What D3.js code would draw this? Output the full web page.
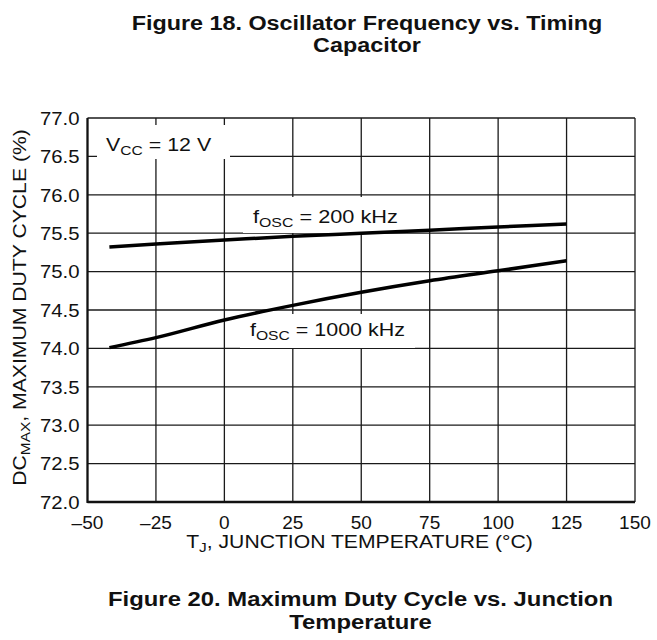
<!DOCTYPE html>
<html>
<head>
<meta charset="utf-8">
<script src="https://cdn.jsdelivr.net/npm/d3@7"></script>
<style>
  html, body { margin: 0; padding: 0; background: #fff; }
  svg { display: block; font-family: "Liberation Sans", Arial, Helvetica, sans-serif; }
</style>
</head>
<body>
<svg id="chart" width="657" height="640"></svg>
<script>
// Junction temperature (°C) sample points
const tempC = [-42, -25, 0, 25, 50, 75, 100, 125];
// Maximum duty cycle (%) for each oscillator frequency
const duty200k = [75.32, 75.36, 75.41, 75.46, 75.50, 75.54, 75.58, 75.62];
const duty1000k = [74.01, 74.14, 74.37, 74.56, 74.73, 74.88, 75.01, 75.14];
// Axis ticks
const xTicks = [-50, -25, 0, 25, 50, 75, 100, 125, 150];
const yTicks = [72.0, 72.5, 73.0, 73.5, 74.0, 74.5, 75.0, 75.5, 76.0, 76.5, 77.0];

const svg = d3.select("#chart");
const plotL = 87.5, plotR = 635, plotT = 118, plotB = 502;

const x = d3.scaleLinear().domain([-50, 150]).range([plotL, plotR]);
const y = d3.scaleLinear().domain([72, 77]).range([plotB, plotT]);

const fs = 18.5, subFs = 13.5, capFs = 21;

// Stretch a text horizontally about its anchor point
function stretch(sel, k, ax) {
  sel.attr("transform", `translate(${ax},0) scale(${k},1) translate(${-ax},0)`);
}
function widthOf(sel) { return sel.node().getBBox().width; }

// Two-line bold caption, stretched to a given first-line width
function caption(cx, baseY, lines, width) {
  const texts = lines.map((s, i) => svg.append("text")
    .attr("x", cx).attr("y", baseY + i * 22.5)
    .attr("text-anchor", "middle").attr("font-weight", "bold")
    .attr("font-size", capFs).attr("fill", "#111").text(s));
  const k = width / widthOf(texts[0]);
  texts.forEach(t => stretch(t, k, cx));
}
caption(367, 30, ["Figure 18. Oscillator Frequency vs. Timing", "Capacitor"], 471);
caption(360.5, 606.5, ["Figure 20. Maximum Duty Cycle vs. Junction", "Temperature"], 505);

// Grid
const grid = svg.append("g").attr("stroke", "#1a1a1a").attr("stroke-width", 1.3);
grid.selectAll("line.v").data(xTicks).join("line").attr("class", "v")
  .attr("x1", d => x(d)).attr("x2", d => x(d))
  .attr("y1", plotT).attr("y2", plotB);
grid.selectAll("line.h").data(yTicks).join("line").attr("class", "h")
  .attr("x1", plotL).attr("x2", plotR)
  .attr("y1", d => y(d)).attr("y2", d => y(d));

// Label backgrounds that interrupt the grid
const boxes = [
  [97, 125, 133, 34],
  [243, 197, 165, 36],
  [240, 314, 175, 34]
];
svg.selectAll("rect.bg").data(boxes).join("rect").attr("class", "bg")
  .attr("x", d => d[0]).attr("y", d => d[1])
  .attr("width", d => d[2]).attr("height", d => d[3])
  .attr("fill", "#fff");

// Axes frame (left and bottom heavier)
svg.append("line").attr("x1", plotL).attr("x2", plotL).attr("y1", plotT).attr("y2", plotB + 1)
  .attr("stroke", "#111").attr("stroke-width", 2.2);
svg.append("line").attr("x1", plotL).attr("x2", plotR).attr("y1", plotB).attr("y2", plotB)
  .attr("stroke", "#111").attr("stroke-width", 2.4);

// Tick labels
svg.append("g").selectAll("text").data(xTicks).join("text")
  .attr("x", d => x(d)).attr("y", 529.5)
  .attr("text-anchor", "middle").attr("font-size", fs).attr("fill", "#111")
  .attr("transform", d => `translate(${x(d)},0) scale(1.03,1) translate(${-x(d)},0)`)
  .text(d => d < 0 ? "\u2013" + Math.abs(d) : String(d));
svg.append("g").selectAll("text").data(yTicks).join("text")
  .attr("x", 79.5).attr("y", d => y(d) + 6.8)
  .attr("text-anchor", "end").attr("font-size", fs).attr("fill", "#111")
  .attr("transform", "translate(79.5,0) scale(1.1,1) translate(-79.5,0)")
  .text(d => d.toFixed(1));

// Text with a subscript part
function subText(parent, main, sub, rest) {
  parent.append("tspan").text(main);
  parent.append("tspan").attr("font-size", subFs).attr("dy", 4).text(sub);
  parent.append("tspan").attr("dy", -4).text(rest);
  return parent;
}

// Axis titles
const xt = subText(svg.append("text").attr("x", 359.5).attr("y", 548.5)
  .attr("text-anchor", "middle").attr("font-size", fs).attr("fill", "#111"),
  "T", "J", ", JUNCTION TEMPERATURE (\u00b0C)");
stretch(xt, 347 / widthOf(xt), 359.5);

const yt = subText(svg.append("text")
  .attr("text-anchor", "middle").attr("font-size", fs).attr("fill", "#111"),
  "DC", "MAX", ", MAXIMUM DUTY CYCLE (%)");
const ky = 357 / widthOf(yt);
yt.attr("transform", `translate(25.5,307.5) rotate(-90) scale(${ky},1)`);

// Curves
const line = d3.line().x(d => x(d[0])).y(d => y(d[1])).curve(d3.curveMonotoneX);
[duty200k, duty1000k].forEach(vals => {
  svg.append("path")
    .datum(tempC.map((t, i) => [t, vals[i]]))
    .attr("d", line)
    .attr("fill", "none").attr("stroke", "#000").attr("stroke-width", 3.5);
});

// Annotations
function subLabel(px, py, main, sub, rest, width) {
  const t = subText(svg.append("text").attr("x", px).attr("y", py)
    .attr("font-size", fs).attr("fill", "#111"), main, sub, rest);
  stretch(t, width / widthOf(t), px);
}
subLabel(106, 151.5, "V", "CC", " = 12 V", 106);
subLabel(253, 223, "f", "OSC", " = 200 kHz", 145);
subLabel(250, 336.5, "f", "OSC", " = 1000 kHz", 155);
</script>
</body>
</html>
